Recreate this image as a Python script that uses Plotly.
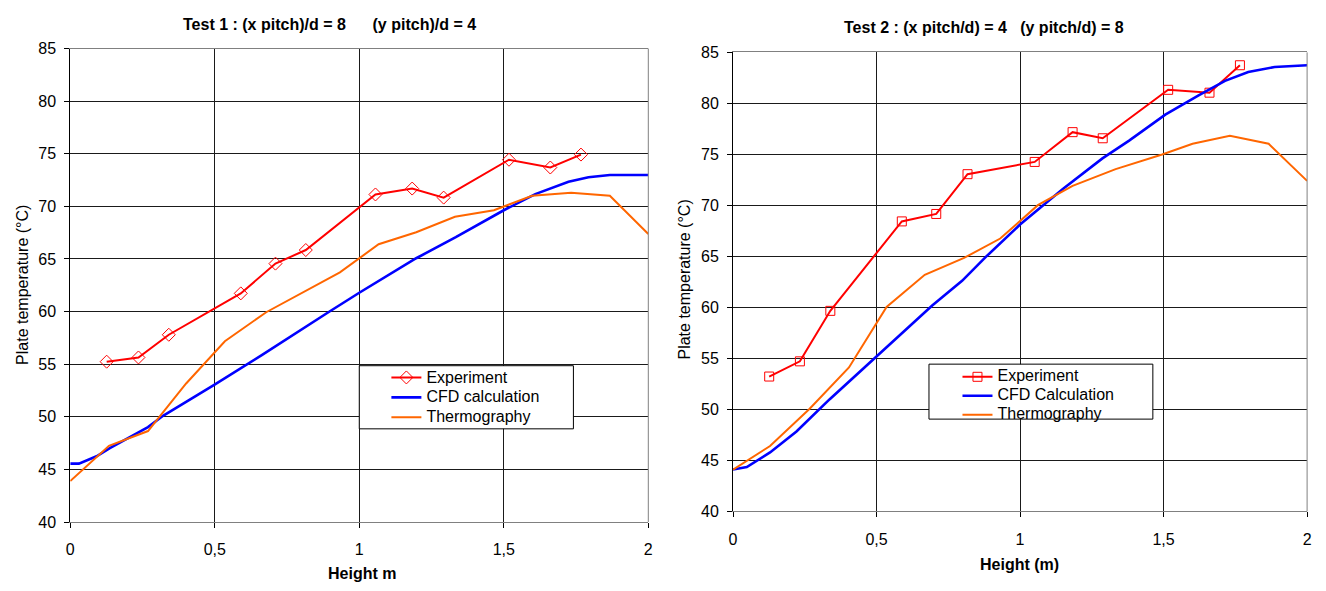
import plotly.graph_objects as go

# ---------------- data ----------------
# Test 1
t1_exp_x = [0.126, 0.236, 0.341, 0.590, 0.710, 0.815, 1.056, 1.183, 1.292, 1.518, 1.661, 1.767]
t1_exp_y = [55.24, 55.64, 57.80, 61.73, 64.56, 65.85, 71.13, 71.69, 70.83, 74.43, 73.69, 74.92]

t1_cfd_x = [0.0, 0.03, 0.091, 0.137, 0.269, 0.321, 0.498, 0.664, 0.893, 1.0, 1.197, 1.334,
            1.5, 1.609, 1.724, 1.793, 1.867, 2.0]
t1_cfd_y = [45.55, 45.55, 46.25, 47.03, 49.02, 50.10, 53.03, 55.88, 59.94, 61.79, 65.07, 67.07,
            69.63, 71.16, 72.33, 72.77, 72.98, 72.98]

t1_th_x = [0.0, 0.134, 0.269, 0.401, 0.535, 0.678, 0.933, 1.067, 1.197, 1.331, 1.466, 1.598,
           1.733, 1.867, 2.0]
t1_th_y = [43.9, 47.24, 48.65, 53.17, 57.18, 59.94, 63.73, 66.40, 67.54, 69.01, 69.63, 71.01,
           71.29, 71.01, 67.38]

# Test 2
t2_exp_x = [0.126, 0.233, 0.339, 0.588, 0.708, 0.817, 1.051, 1.183, 1.288, 1.516, 1.660, 1.766]
t2_exp_y = [53.22, 54.71, 59.66, 68.43, 69.16, 73.06, 74.26, 77.18, 76.58, 81.33, 81.05, 83.74]

t2_cfd_x = [0.0, 0.048, 0.129, 0.221, 0.337, 0.498, 0.608, 0.694, 0.798, 0.879, 1.0, 1.149,
            1.287, 1.38, 1.506, 1.622, 1.714, 1.795, 1.887, 2.0]
t2_cfd_y = [44.1, 44.35, 45.78, 47.83, 51.0, 55.12, 57.97, 60.19, 62.6, 64.9, 68.12, 71.6,
            74.61, 76.35, 78.89, 80.79, 82.21, 83.07, 83.57, 83.74]

t2_th_x = [0.0, 0.129, 0.267, 0.404, 0.535, 0.668, 0.805, 0.931, 1.062, 1.183, 1.333, 1.495,
           1.601, 1.731, 1.866, 2.0]
t2_th_y = [44.1, 46.41, 50.06, 54.11, 60.04, 63.2, 64.85, 66.75, 70.02, 71.92, 73.56, 74.99,
           76.04, 76.83, 76.04, 72.4]

x_ticks = [0, 0.5, 1, 1.5, 2]
y_ticks = [40, 45, 50, 55, 60, 65, 70, 75, 80, 85]

# ---------------- layout helpers ----------------
W, H = 1326, 591
def px(x):
    return x / W
def py(y):
    return 1 - y / H

FONT = "Arial, 'Liberation Sans', sans-serif"
RED, BLUE, ORANGE = "#FF0000", "#0000FF", "#FF6600"
GRID = "#1a1a1a"

fig = go.Figure()

def span(t):
    return "<span style='font-size:16px'>%s</span>" % t

# Test 1 traces
fig.add_trace(go.Scatter(x=t1_exp_x, y=t1_exp_y, mode="lines+markers", name=span("Experiment"),
                         line=dict(color=RED, width=2),
                         marker=dict(symbol="diamond-open", size=10, color=RED, line=dict(width=1)),
                         xaxis="x", yaxis="y", legend="legend"))
fig.add_trace(go.Scatter(x=t1_cfd_x, y=t1_cfd_y, mode="lines", name=span("CFD calculation"),
                         line=dict(color=BLUE, width=2.6), xaxis="x", yaxis="y", legend="legend"))
fig.add_trace(go.Scatter(x=t1_th_x, y=t1_th_y, mode="lines", name=span("Thermography"),
                         line=dict(color=ORANGE, width=2), xaxis="x", yaxis="y", legend="legend"))

# Test 2 traces
fig.add_trace(go.Scatter(x=t2_exp_x, y=t2_exp_y, mode="lines+markers", name=span("Experiment"),
                         line=dict(color=RED, width=2),
                         marker=dict(symbol="square-open", size=9, color=RED, line=dict(width=1)),
                         xaxis="x2", yaxis="y2", legend="legend2"))
fig.add_trace(go.Scatter(x=t2_cfd_x, y=t2_cfd_y, mode="lines", name=span("CFD Calculation"),
                         line=dict(color=BLUE, width=2.6), xaxis="x2", yaxis="y2", legend="legend2"))
fig.add_trace(go.Scatter(x=t2_th_x, y=t2_th_y, mode="lines", name=span("Thermography"),
                         line=dict(color=ORANGE, width=2), xaxis="x2", yaxis="y2", legend="legend2"))

# plot-area pixel geometry
L1 = dict(x0=66.7, x1=648.7, y0=41.7, y1=529.3)
L2 = dict(x0=734.0, x1=1312.0, y0=45.7, y1=518.3)

def xaxis_cfg(g, anchor):
    return dict(domain=[px(g["x0"]), px(g["x1"])], range=[0, 2], tickvals=x_ticks,
                showgrid=True, gridcolor=GRID, gridwidth=1, zeroline=False,
                showline=True, linecolor="#808080", linewidth=1, mirror=True,
                ticks="outside", ticklen=5, tickcolor="#000000",
                tickfont=dict(family=FONT, size=16, color="#000000"),
                ticklabelstandoff=8, anchor=anchor, fixedrange=True)

def yaxis_cfg(g, anchor):
    return dict(domain=[py(g["y1"]), py(g["y0"])], range=[40, 85], tickvals=y_ticks,
                showgrid=True, gridcolor=GRID, gridwidth=1, zeroline=False,
                showline=True, linecolor="#000000", linewidth=1,
                ticks="outside", ticklen=5, tickcolor="#000000",
                tickfont=dict(family=FONT, size=16, color="#000000"),
                ticklabelstandoff=5, anchor=anchor, fixedrange=True)

shapes = []
for g in (L1, L2):
    # right border of plot area
    shapes.append(dict(type="line", xref="paper", yref="paper", x0=px(g["x1"]), x1=px(g["x1"]),
                       y0=py(g["y1"]), y1=py(g["y0"]), line=dict(color="#808080", width=1)))

# legend boxes
LB1 = dict(x0=357.7, x1=573.3, y0=368.3, y1=433.3)
LB2 = dict(x0=931.3, x1=1156.7, y0=366.7, y1=423.3)
for b in (LB1, LB2):
    shapes.append(dict(type="rect", xref="paper", yref="paper", x0=px(b["x0"]), x1=px(b["x1"]),
                       y0=py(b["y1"]), y1=py(b["y0"]), fillcolor="#FFFFFF",
                       line=dict(color="#000000", width=1), layer="above"))

annotations = [
    dict(text="<b>Test 1 : (x pitch)/d = 8&nbsp;&nbsp;&nbsp;&nbsp;&nbsp;&nbsp;(y pitch)/d = 4</b>",
         x=px(328), y=py(16.7)),
    dict(text="<b>Test 2 : (x pitch/d) = 4&nbsp;&nbsp;&nbsp;(y pitch/d) = 8</b>",
         x=px(987), y=py(20)),
    dict(text="<b>Height m</b>", x=px(360), y=py(582.7)),
    dict(text="<b>Height (m)</b>", x=px(1022), y=py(572.7)),
    dict(text="Plate temperature (°C)", x=px(18.4), y=py(284.8), textangle=-90),
    dict(text="Plate temperature (°C)", x=px(685.5), y=py(279.7), textangle=-90),
]
for a in annotations:
    a.update(xref="paper", yref="paper", showarrow=False, xanchor="center", yanchor="middle",
             font=dict(family=FONT, size=16, color="#000000"))

legend_common = dict(bgcolor="rgba(0,0,0,0)", borderwidth=0, xanchor="left", yanchor="top",
                     tracegroupgap=0, itemclick=False, itemdoubleclick=False)

fig.update_layout(
    width=W, height=H, autosize=False,
    margin=dict(l=0, r=0, t=0, b=0),
    paper_bgcolor="#FFFFFF", plot_bgcolor="#FFFFFF",
    separators=",.",
    showlegend=True,
    xaxis=xaxis_cfg(L1, "y"),
    yaxis=yaxis_cfg(L1, "x"),
    xaxis2=xaxis_cfg(L2, "y2"),
    yaxis2=yaxis_cfg(L2, "x2"),
    legend=dict(x=px(385), y=py(365), font=dict(family=FONT, size=13, color="#000000"),
                **legend_common),
    legend2=dict(x=px(960), y=py(364.8), font=dict(family=FONT, size=11, color="#000000"),
                 **legend_common),
    shapes=shapes,
    annotations=annotations,
)

fig.write_html("out.html", config={"displayModeBar": False})
